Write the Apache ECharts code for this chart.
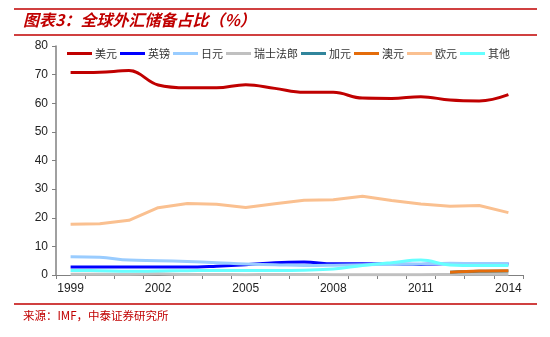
<!DOCTYPE html>
<html>
<head>
<meta charset="utf-8">
<script src="https://cdn.jsdelivr.net/npm/echarts@6/dist/echarts.min.js"></script>
<style>
  html, body { margin: 0; padding: 0; background: #fff; }
  #chart { width: 550px; height: 337px; }
</style>
</head>
<body>
<div id="chart"></div>
<script>
// Share of global foreign-exchange reserves by currency (%)
const years = ['1999','2000','2001','2002','2003','2004','2005','2006','2007','2008','2009','2010','2011','2012','2013','2014'];
const usd   = [70.7, 70.8, 71.4, 66.4, 65.4, 65.4, 66.5, 65.2, 63.8, 63.8, 61.8, 61.7, 62.3, 61.1, 60.8, 63.0];
const gbp   = [2.8, 2.8, 2.8, 2.8, 2.8, 3.1, 3.6, 4.3, 4.5, 3.9, 3.9, 3.8, 3.7, 4.0, 3.9, 3.8];
const jpy   = [6.4, 6.2, 5.2, 5.0, 4.7, 4.3, 3.8, 3.6, 3.3, 3.4, 3.6, 3.7, 3.8, 4.1, 4.0, 4.0];
const chf   = [0.3, 0.3, 0.3, 0.4, 0.2, 0.2, 0.1, 0.2, 0.2, 0.1, 0.1, 0.1, 0.1, 0.2, 0.3, 0.3];
const cad   = [null, null, null, null, null, null, null, null, null, null, null, null, null, 1.0, 1.3, 1.4];
const aud   = [null, null, null, null, null, null, null, null, null, null, null, null, null, 1.0, 1.4, 1.5];
const eur   = [17.7, 17.9, 19.1, 23.5, 25.0, 24.7, 23.6, 24.9, 26.1, 26.3, 27.5, 26.0, 24.8, 24.0, 24.3, 21.8];
const other = [1.6, 1.5, 1.3, 1.4, 1.5, 1.6, 1.6, 1.6, 1.7, 2.1, 3.3, 4.3, 5.2, 3.5, 3.3, 3.3];

const yTicks = { min: 0, max: 80, interval: 10 };
const xLabelYears = ['1999','2002','2005','2008','2011','2014'];

const seriesDefs = [
  { name: '美元',     data: usd,   color: '#c00000', smooth: 0.4 },
  { name: '英镑',     data: gbp,   color: '#0000ff', smooth: 0.4 },
  { name: '日元',     data: jpy,   color: '#99ccff', smooth: 0.4 },
  { name: '瑞士法郎', data: chf,   color: '#c0c0c0', smooth: 0.4 },
  { name: '加元',     data: cad,   color: '#31859c', smooth: 0.4 },
  { name: '澳元',     data: aud,   color: '#e46c0a', smooth: 0.4 },
  { name: '欧元',     data: eur,   color: '#fac090', smooth: false },
  { name: '其他',     data: other, color: '#66ffff', smooth: 0.4 }
];

const chart = echarts.init(document.getElementById('chart'), null, { renderer: 'canvas' });
const red = '#c00000';
const cjk = '"Noto Sans CJK SC", sans-serif';

chart.setOption({
  animation: false,
  backgroundColor: '#fff',
  grid: { left: 56, top: 46, right: 27, bottom: 62, containLabel: false },
  legend: {
    left: 62, top: 43,
    itemWidth: 25, itemHeight: 3, itemGap: 3,
    icon: 'rect',
    textStyle: { fontSize: 11, color: '#333', fontFamily: cjk, padding: [0, 0, 0, -2] },
    data: seriesDefs.map(s => s.name)
  },
  xAxis: {
    type: 'category',
    data: years,
    boundaryGap: true,
    axisLine: { lineStyle: { color: '#808080', width: 1 } },
    axisTick: { show: true, interval: 0, length: 4, lineStyle: { color: '#808080' } },
    axisLabel: {
      interval: (i, v) => xLabelYears.includes(v),
      color: '#222', fontSize: 12, fontFamily: 'Arial, "Liberation Sans", sans-serif', margin: 8
    }
  },
  yAxis: {
    type: 'value',
    min: yTicks.min, max: yTicks.max, interval: yTicks.interval,
    axisLine: { show: true, lineStyle: { color: '#808080', width: 1.5 } },
    axisTick: { show: true, length: 4, inside: false, lineStyle: { color: '#808080' } },
    splitLine: { show: false },
    axisLabel: { color: '#222', fontSize: 12, fontFamily: 'Arial, "Liberation Sans", sans-serif', margin: 8 }
  },
  series: seriesDefs.map(s => ({
    name: s.name,
    type: 'line',
    data: s.data,
    smooth: s.smooth,
    showSymbol: false,
    symbol: 'none',
    connectNulls: false,
    lineStyle: { color: s.color, width: 3 },
    itemStyle: { color: s.color }
  })),
  graphic: [
    { type: 'line', shape: { x1: 14, y1: 9, x2: 537, y2: 9 }, style: { stroke: red, lineWidth: 1.5 } },
    { type: 'line', shape: { x1: 14, y1: 35, x2: 537, y2: 35 }, style: { stroke: red, lineWidth: 1.5 } },
    { type: 'text', left: 23, top: 12,
      style: { text: '图表3：全球外汇储备占比（%）', fill: red, font: 'italic bold 16px ' + cjk } },
    { type: 'line', shape: { x1: 14, y1: 304, x2: 537, y2: 304 }, style: { stroke: red, lineWidth: 1.5 } },
    { type: 'text', left: 23, top: 310,
      style: { text: '来源：IMF，中泰证券研究所', fill: red, font: '11.5px ' + cjk } }
  ]
});
</script>
</body>
</html>
